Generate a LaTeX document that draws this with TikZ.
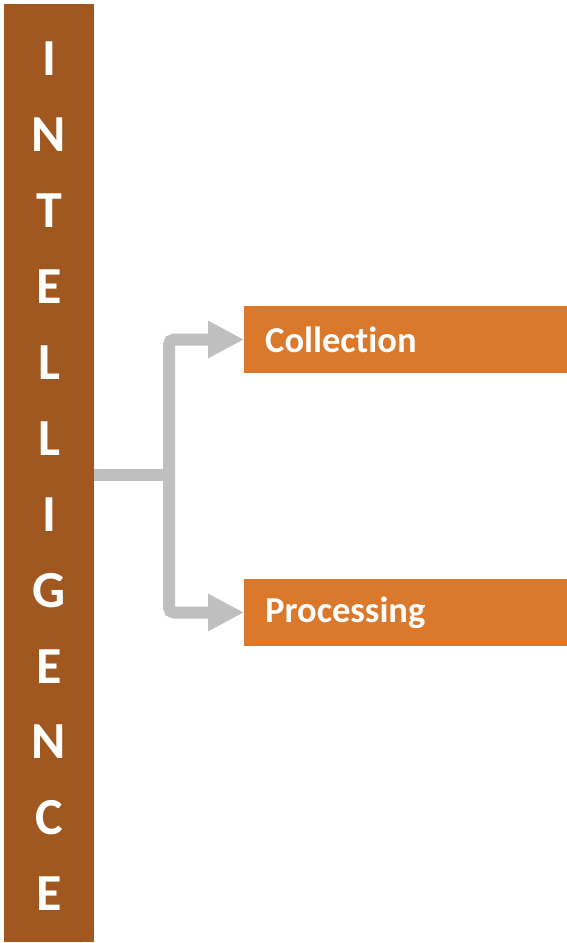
\documentclass[tikz,border=0pt]{standalone}
\usepackage{fontspec}
\setmainfont{Carlito}[Ligatures={NoCommon}]
\usetikzlibrary{arrows.meta}
\definecolor{barbrown}{RGB}{161,88,32}
\definecolor{boxorange}{RGB}{218,121,43}
\definecolor{conngray}{RGB}{191,191,191}
\tikzset{
  letter/.style={text=white,font=\fontsize{52}{52}\selectfont\bfseries,inner sep=0pt,anchor=center},
  stagebox/.style={fill=boxorange,text=white,font=\fontsize{36.5}{36.5}\selectfont\bfseries,minimum width=323pt,minimum height=67pt,inner xsep=21pt,inner ysep=0pt,text width=281pt,align=left,anchor=west},
  conn/.style={draw=conngray,line width=12pt,rounded corners=5pt},
  connarrow/.style={conn,-{Triangle[length=36pt,width=35pt]}}
}
\begin{document}
\begin{tikzpicture}[x=1pt,y=-1pt]
\useasboundingbox (0,0) rectangle (567,943);
\node[fill=barbrown,minimum width=90pt,minimum height=938pt,inner sep=0pt,anchor=north west] (bar) at (4,4) {};
\foreach \ch [count=\i] in {I,N,T,E,L,L,I,G,E,N,C,E} {
  \node[letter] (l\i) at (49,{59+75.9*(\i-1)}) {\ch};
}
\node[stagebox] (col) at (244,339.5) {Collection};
\node[stagebox] (proc) at (244,612.5) {Processing};
\coordinate (j) at (169,475);
\draw[conn] (bar.east |- j) -- (j);
\draw[connarrow] (j) |- (col.west);
\draw[connarrow] (j) |- (proc.west);
\end{tikzpicture}
\end{document}
